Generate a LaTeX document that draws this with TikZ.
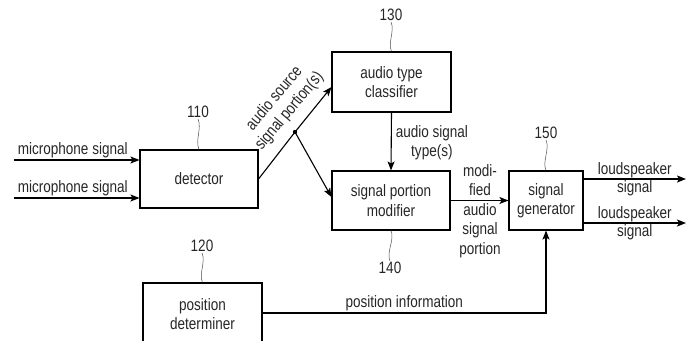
\documentclass[tikz,border=0pt]{standalone}
\usepackage{fontspec}
\setmainfont[FakeStretch=0.82]{Liberation Sans}
\usetikzlibrary{positioning,arrows.meta,calc}
\tikzset{
  block/.style={draw=black, line width=1.1pt, align=center, inner sep=0pt},
  sig/.style={line width=1.1pt, draw=black, -{Stealth[length=9pt,width=7pt,inset=2pt]}},
  wire/.style={line width=1.1pt, draw=black},
  leader/.style={draw=black!70, line width=0.5pt},
  refnum/.style={inner sep=1pt},
  lbl/.style={align=center, inner sep=2pt}
}

\begin{document}
\begin{tikzpicture}[x=1pt, y=-1pt,
    every node/.style={font=\fontsize{16.5}{19.5}\selectfont, text=black!85}]
    \useasboundingbox (0,0) rectangle (688,340);
    \clip (0,0) rectangle (688,340);

    % blocks
    \node[block, minimum width=118pt, minimum height=58pt] (det) at (199,179) {detector};
    \node[block, minimum width=119pt, minimum height=60pt] (cls) at (391.5,82) {audio type\\classifier};
    \node[block, minimum width=118pt, minimum height=59pt] (mod) at (391,200.5) {signal portion\\modifier};
    \node[block, minimum width=74pt, minimum height=59pt] (gen) at (546,200.5) {signal\\generator};
    \node[block, minimum width=119pt, minimum height=62pt] (pos) at (202.5,314) {position\\determiner};

    % reference numbers
    \node[refnum] (n110) at (198,112) {110};
    \node[refnum] (n130) at (391,15) {130};
    \node[refnum] (n140) at (390,268) {140};
    \node[refnum] (n150) at (546,133) {150};
    \node[refnum] (n120) at (202,246) {120};

    \draw[leader] (n110.south) .. controls +(4,9) and +(-4,-9) .. (det.north);
    \draw[leader] (n130.south) .. controls +(4,9) and +(-4,-9) .. (cls.north);
    \draw[leader] (mod.south) .. controls +(4,9) and +(-4,-9) .. (n140.north);
    \draw[leader] (n150.south) .. controls +(4,9) and +(-4,-9) .. (gen.north);
    \draw[leader] (n120.south) .. controls +(4,9) and +(-4,-9) .. (pos.north);

    % inputs
    \coordinate (mic1) at (14,160);
    \coordinate (mic2) at (14,198);
    \draw[sig] (mic1) -- node[lbl, above, xshift=-4pt] {microphone signal} (mic1 -| det.west);
    \draw[sig] (mic2) -- node[lbl, above, xshift=-4pt] {microphone signal} (mic2 -| det.west);

    % detector output, split
    \coordinate (split) at (295,132);
    \draw[wire] (det.east) -- (split);
    \draw[sig] (split) -- ([yshift=-5pt]cls.west);
    \draw[sig] (split) -- ([yshift=3.5pt]mod.west);
    \fill (split) circle (2.2pt);
    \node[lbl, rotate=50] (srclbl) at (282,105) {audio source\\signal portion(s)};

    % classifier to modifier
    \draw[sig] (cls.south) -- node[lbl, right, xshift=2pt, yshift=-1pt] {audio signal\\type(s)} (mod.north);

    % modifier to generator
    \draw[sig] (mod.east) -- (gen.west);
    \node[lbl] (modlbl) at (480,211) {modi-\\fied\\audio\\signal\\portion};

    % outputs
    \coordinate (ls1) at (686,179);
    \coordinate (ls2) at (686,223);
    \draw[sig] (ls1 -| gen.east) -- node[lbl, above, inner sep=1pt] {loudspeaker} node[lbl, below, inner sep=1pt] {signal} (ls1);
    \draw[sig] (ls2 -| gen.east) -- node[lbl, above, inner sep=1pt] {loudspeaker} node[lbl, below, inner sep=1pt] {signal} (ls2);

    % position information
    \draw[sig] ([yshift=1pt]pos.east) -| node[lbl, above, pos=0.25] {position information} (gen.south);
\end{tikzpicture}
\end{document}
